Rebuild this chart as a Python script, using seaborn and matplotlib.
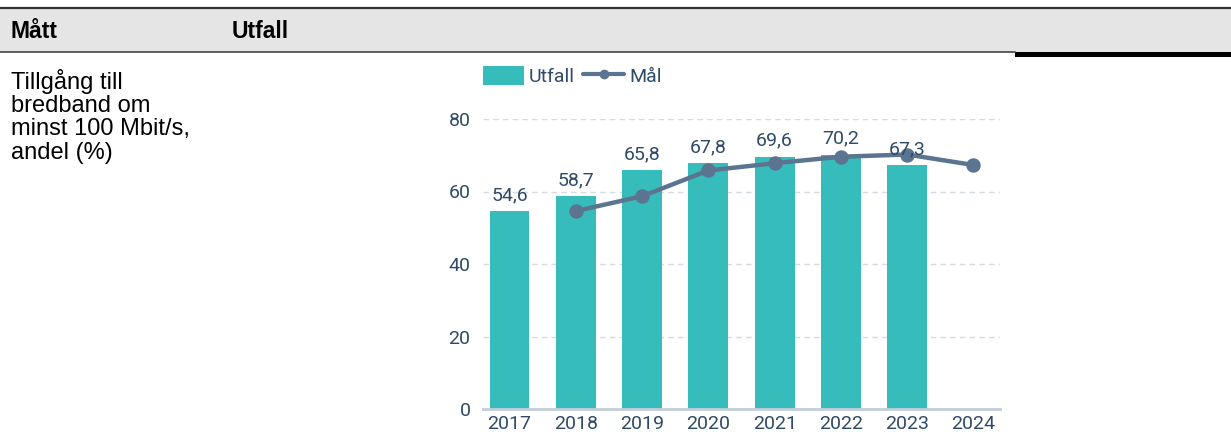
import numpy as np
import pandas as pd
import matplotlib
matplotlib.use("Agg")
import matplotlib.pyplot as plt
from matplotlib.patches import Rectangle
from matplotlib.lines import Line2D
import seaborn as sns

years = ["2017", "2018", "2019", "2020", "2021", "2022", "2023", "2024"]
utfall = [54.6, 58.7, 65.8, 67.8, 69.6, 70.2, 67.3, np.nan]
mal = [np.nan, 54.6, 58.7, 65.8, 67.8, 69.6, 70.2, 67.3]
yticks = [0, 20, 40, 60, 80]

header_left = "Mått"
header_right = "Utfall"
row_label = "Tillgång till\nbredband om\nminst 100 Mbit/s,\nandel (%)"

bar_color = "#36bdbb"
line_color = "#5b7590"
text_color = "#2f4a68"

df = pd.DataFrame({"year": years, "Utfall": utfall, "Mål": mal})
# 2024 has no outcome yet: zero-height bar keeps the category slot
df["Utfall_bar"] = df["Utfall"].fillna(0)

sns.set_style("white")
plt.rcParams["font.family"] = ["Roboto", "DejaVu Sans"]

W, H = 1231, 443
fig = plt.figure(figsize=(W / 100, H / 100), dpi=100)

# table header
fig.patches.append(Rectangle((0, 1 - 52 / H), 1, 44 / H, transform=fig.transFigure,
                             facecolor="#e5e5e5", edgecolor="none", zorder=0))
fig.lines.append(Line2D([0, 1], [1 - 8 / H, 1 - 8 / H], transform=fig.transFigure,
                        color="#333333", lw=1.6))
fig.lines.append(Line2D([0, 1015 / W], [1 - 52 / H, 1 - 52 / H], transform=fig.transFigure,
                        color="#444444", lw=1.2))
fig.patches.append(Rectangle((1015 / W, 1 - 57 / H), (W - 1015) / W, 5 / H,
                             transform=fig.transFigure, facecolor="black", edgecolor="none"))
fig.text(11 / W, 1 - 31 / H, header_left, fontsize=16.5, fontweight="bold",
         family="Liberation Sans", va="center", ha="left", color="black")
fig.text(232 / W, 1 - 31 / H, header_right, fontsize=16.5, fontweight="bold",
         family="Liberation Sans", va="center", ha="left", color="black")
fig.text(11 / W, 1 - 69 / H, row_label, fontsize=17, family="Liberation Sans",
         va="top", ha="left", color="black", linespacing=1.07)

ax = fig.add_axes([483 / W, 1 - 409 / H, (1000 - 483) / W, (409 - 119) / H])

sns.barplot(data=df, x="year", y="Utfall_bar", order=years, color=bar_color,
            width=0.6, saturation=1, linewidth=0, ax=ax, zorder=2)
sns.pointplot(data=df, x="year", y="Mål", order=years, color=line_color,
              errorbar=None, markersize=8, linewidth=3.2, ax=ax, zorder=3)

labels = ["" if np.isnan(v) else f"{v:.1f}".replace(".", ",") for v in utfall]
ax.bar_label(ax.containers[0], labels=labels, padding=5, fontsize=14, color=text_color)

ax.set_ylim(0, 80)
ax.set_xlim(-0.4, 7.4)
ax.set_yticks(yticks)
ax.set_xlabel("")
ax.set_ylabel("")
ax.grid(axis="y", color="#d5dbe2", linestyle=(0, (4, 3)), lw=1, zorder=0)
ax.set_axisbelow(True)
for s in ["top", "right", "left"]:
    ax.spines[s].set_visible(False)
ax.spines["bottom"].set_color("#c3ceda")
ax.spines["bottom"].set_linewidth(2)
ax.tick_params(axis="both", length=0, labelsize=14, labelcolor=text_color)
ax.tick_params(axis="y", pad=9)
ax.tick_params(axis="x", pad=4.5)

handles = [Rectangle((0, 0), 1, 1, facecolor=bar_color, edgecolor="none"),
           Line2D([], [], color=line_color, lw=3, marker="o", markersize=6)]
ax.legend(handles, ["Utfall", "Mål"], loc="lower left", bbox_to_anchor=(0, 1.114),
          ncol=2, frameon=False, fontsize=14, labelcolor=text_color,
          handlelength=2.1, handleheight=1.18, columnspacing=0.45, handletextpad=0.25,
          borderaxespad=0, borderpad=0)

fig.savefig("out.png", dpi=100)
